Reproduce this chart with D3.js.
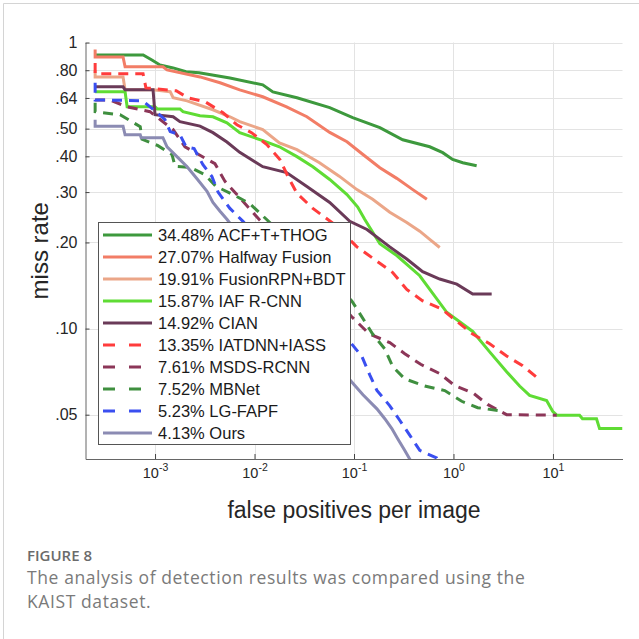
<!DOCTYPE html>
<html>
<head>
<meta charset="utf-8">
<script src="https://cdn.jsdelivr.net/npm/d3@7"></script>
<style>
  body { margin: 0; background: #fff; }
  svg { display: block; }
</style>
</head>
<body>
<script>
// Dados: [fppi, miss rate]
const acf = [[2.5e-4,0.905],[7.6e-4,0.905],[9.3e-4,0.869],[1.12e-3,0.835],[1.52e-3,0.815],[2.05e-3,0.79],[2.77e-3,0.784],[5.66e-3,0.752],[1.21e-2,0.711],[1.53e-2,0.672],[2.67e-2,0.641],[5.7e-2,0.592],[9.7e-2,0.546],[0.182,0.504],[0.309,0.457],[0.577,0.432],[0.78,0.412],[0.98,0.39],[1.24,0.38],[1.71,0.371]];
const halfway = [[2.5e-4,0.945],[2.5e-4,0.89],[4.77e-4,0.89],[5.0e-4,0.822],[1.2e-3,0.822],[1.32e-3,0.802],[2.83e-3,0.758],[4.5e-3,0.723],[7.1e-3,0.683],[1.21e-2,0.646],[2.1e-2,0.596],[3.36e-2,0.55],[5.7e-2,0.485],[8.5e-2,0.45],[0.123,0.406],[0.182,0.365],[0.269,0.335],[0.39,0.306],[0.54,0.283]];
const fusionRpn = [[2.5e-4,0.802],[2.5e-4,0.758],[4.77e-4,0.758],[5.0e-4,0.683],[9.55e-4,0.683],[1.42e-3,0.673],[1.52e-3,0.641],[2.1e-3,0.625],[3.82e-3,0.582],[5.66e-3,0.55],[7.1e-3,0.529],[1.21e-2,0.496],[1.78e-2,0.446],[2.67e-2,0.422],[4.5e-2,0.38],[7.1e-2,0.341],[0.107,0.306],[0.154,0.283],[0.229,0.255],[0.339,0.235],[0.458,0.219],[0.577,0.205],[0.727,0.192]];
const iaf = [[2.5e-4,0.673],[5.0e-4,0.673],[5.24e-4,0.596],[1e-3,0.596],[1.05e-3,0.586],[1.78e-3,0.586],[1.91e-3,0.573],[2.83e-3,0.555],[3.82e-3,0.55],[5.28e-3,0.524],[7.1e-3,0.484],[1.21e-2,0.454],[1.78e-2,0.432],[2.67e-2,0.399],[3.86e-2,0.368],[5.7e-2,0.332],[8.5e-2,0.294],[0.109,0.266],[0.128,0.241],[0.182,0.198],[0.269,0.18],[0.458,0.153],[0.855,0.114],[1.56,0.0977],[2.31,0.0829],[3.42,0.0706],[4.62,0.063],[5.82,0.0584],[8.63,0.056],[9.93,0.0514],[10.9,0.0498],[18.5,0.0498],[19.8,0.0484],[27.4,0.0484],[29.4,0.0447],[50,0.0447]];
const cian = [[2.5e-4,0.70],[4.77e-4,0.70],[5.0e-4,0.683],[9.55e-4,0.683],[1e-3,0.559],[1.52e-3,0.55],[1.78e-3,0.529],[2.83e-3,0.51],[3.82e-3,0.484],[5.28e-3,0.449],[7.1e-3,0.413],[1.21e-2,0.368],[2.1e-2,0.351],[3.36e-2,0.314],[5.7e-2,0.276],[9.07e-2,0.237],[0.135,0.222],[0.229,0.193],[0.339,0.175],[0.49,0.158],[0.727,0.149],[1.08,0.143],[1.56,0.132],[2.42,0.132]];
const iatdnn = [[2.5e-4,0.848],[2.5e-4,0.777],[7.58e-4,0.777],[8.1e-4,0.694],[1.63e-3,0.678],[2.14e-3,0.641],[3.18e-3,0.621],[4.82e-3,0.568],[6.65e-3,0.516],[9.33e-3,0.484],[1.33e-2,0.44],[1.8e-2,0.39],[2.16e-2,0.341],[2.67e-2,0.297],[3.86e-2,0.263],[6.4e-2,0.231],[0.107,0.193],[0.17,0.172],[0.245,0.157],[0.339,0.137],[0.49,0.125],[0.762,0.117],[1.08,0.106],[1.56,0.0957],[2.31,0.0885],[3.42,0.0802],[4.96,0.0741],[7.0,0.0672]];
const msds = [[2.5e-4,0.63],[3.5e-4,0.63],[5.24e-4,0.596],[8.9e-4,0.573],[1.52e-3,0.496],[2.0e-3,0.432],[4.0e-3,0.377],[5.05e-3,0.327],[6.65e-3,0.294],[1.11e-2,0.241],[9.5e-2,0.11],[0.141,0.096],[0.229,0.0893],[0.324,0.0817],[0.468,0.075],[0.727,0.0696],[1.03,0.0632],[1.6,0.0593],[2.2,0.0543],[3.42,0.05],[10.9,0.0498]];
const mbnet = [[2.5e-4,0.616],[2.5e-4,0.573],[4.45e-4,0.559],[7.1e-4,0.508],[7.4e-4,0.459],[1.07e-3,0.436],[1.48e-3,0.406],[1.59e-3,0.369],[2.25e-3,0.366],[3.18e-3,0.345],[4.1e-3,0.314],[6.35e-3,0.292],[9.0e-3,0.273],[1.3e-2,0.242],[9.5e-2,0.125],[0.128,0.106],[0.154,0.0957],[0.204,0.0849],[0.245,0.0736],[0.324,0.0667],[0.514,0.063],[0.817,0.0607],[1.21,0.0557],[1.75,0.0529],[2.78,0.0517]];
const lgfapf = [[2.5e-4,0.723],[2.5e-4,0.63],[7.1e-4,0.626],[7.94e-4,0.616],[1.05e-3,0.568],[1.26e-3,0.537],[1.42e-3,0.488],[1.78e-3,0.476],[2.05e-3,0.432],[2.47e-3,0.426],[3.03e-3,0.374],[3.73e-3,0.34],[4.3e-3,0.30],[5.66e-3,0.263],[7.66e-3,0.237],[9.07e-2,0.09],[0.12,0.0799],[0.144,0.0689],[0.17,0.0608],[0.229,0.0537],[0.288,0.0478],[0.363,0.0424],[0.458,0.0375],[0.678,0.0353],[0.72,0.034]];
const ours = [[2.5e-4,0.537],[2.5e-4,0.51],[4.77e-4,0.51],[5.0e-4,0.476],[7.1e-4,0.476],[7.26e-4,0.465],[1.2e-3,0.465],[1.32e-3,0.432],[1.66e-3,0.399],[2.1e-3,0.368],[2.64e-3,0.334],[3.33e-3,0.302],[3.82e-3,0.276],[4.5e-3,0.257],[5.28e-3,0.241],[9.07e-2,0.0662],[0.123,0.0587],[0.17,0.0524],[0.204,0.0484],[0.24,0.0447],[0.275,0.0412],[0.324,0.0375],[0.363,0.035],[0.38,0.034]];

const labels = ['34.48% ACF+T+THOG', '27.07% Halfway Fusion', '19.91% FusionRPN+BDT', '15.87% IAF R-CNN', '14.92% CIAN',
                '13.35% IATDNN+IASS', '7.61% MSDS-RCNN', '7.52% MBNet', '5.23% LG-FAPF', '4.13% Ours'];
const curves = [acf, halfway, fusionRpn, iaf, cian, iatdnn, msds, mbnet, lgfapf, ours];
const colors = ['#3d993d', '#f27d66', '#eba688', '#5fdc34', '#6a3a58', '#ff3c3c', '#8c3658', '#3f8f3f', '#3a4ff0', '#8b8bb3'];
const dashed = [false, false, false, false, false, true, true, true, true, false];

const yTicks = [1, 0.8, 0.64, 0.5, 0.4, 0.3, 0.2, 0.1, 0.05];
const yTickLabels = ['1', '.80', '.64', '.50', '.40', '.30', '.20', '.10', '.05'];
const xTicks = [1e-3, 1e-2, 1e-1, 1, 10];
const xTickExp = ['-3', '-2', '-1', '0', '1'];

const W = 639, H = 639;
const pL = 85.5, pR = 622.5, pT = 42.5, pB = 459;
const font = 'Liberation Sans, Arial, sans-serif';

const svg = d3.select('body').append('svg')
    .attr('width', W)
    .attr('height', H);

// moldura do cartão
svg.append('path')
    .attr('d', `M3.5,${H} V3.5 H${W}`)
    .attr('fill', 'none')
    .attr('stroke', '#d4d4d4');

// Escalas
const x = d3.scaleLog().domain([2e-4, 50]).range([pL, pR]);
const y = d3.scaleLog().domain([0.035, 1]).range([pB, pT]);

// Grade
const grid = svg.append('g').attr('stroke', '#e3e3e3').attr('stroke-width', 1);
grid.selectAll('.gx').data(xTicks).enter().append('line')
    .attr('x1', d => Math.round(x(d)) + 0.5).attr('x2', d => Math.round(x(d)) + 0.5)
    .attr('y1', pT).attr('y2', pB);
grid.selectAll('.gy').data(yTicks).enter().append('line')
    .attr('y1', d => Math.round(y(d)) + 0.5).attr('y2', d => Math.round(y(d)) + 0.5)
    .attr('x1', pL).attr('x2', pR);

// Eixos
const yAxis = svg.append('g')
    .attr('transform', `translate(${pL},0)`)
    .call(d3.axisLeft(y).tickValues(yTicks).tickSizeInner(-4).tickSizeOuter(0).tickPadding(8)
        .tickFormat(d => yTickLabels[yTicks.indexOf(d)]));
yAxis.selectAll('text').attr('font-size', 16).attr('font-family', font).attr('fill', '#262626');
yAxis.selectAll('line').attr('stroke', '#444');
yAxis.select('.domain').attr('stroke', '#666');

const xAxis = svg.append('g')
    .attr('transform', `translate(0,${pB})`)
    .call(d3.axisBottom(x).tickValues(xTicks).tickSizeInner(-5).tickSizeOuter(0).tickFormat(''));
xAxis.selectAll('line').attr('stroke', '#444');
xAxis.select('.domain').attr('stroke', '#666');
xAxis.selectAll('.tick text').remove();
const xl = xAxis.selectAll('.tick').append('text')
    .attr('y', 19)
    .attr('text-anchor', 'middle')
    .attr('font-family', font)
    .attr('fill', '#262626');
xl.append('tspan').attr('font-size', 14.5).text('10');
xl.append('tspan').attr('font-size', 10.5).attr('dy', -7).text((d, i) => xTickExp[i]);

// Títulos
svg.append('text')
    .attr('transform', `translate(48,${(pT + pB) / 2}) rotate(-90)`)
    .attr('text-anchor', 'middle')
    .attr('font-family', font).attr('font-size', 24).attr('fill', '#262626')
    .text('miss rate');
svg.append('text')
    .attr('x', (pL + pR) / 2).attr('y', 518)
    .attr('text-anchor', 'middle')
    .attr('font-family', font).attr('font-size', 23).attr('fill', '#262626')
    .text('false positives per image');

// Curvas
svg.append('clipPath').attr('id', 'clip')
    .append('rect').attr('x', pL).attr('y', pT).attr('width', pR - pL).attr('height', pB - pT);

const line = d3.line().x(d => x(d[0])).y(d => y(d[1]));
svg.append('g').attr('clip-path', 'url(#clip)')
    .selectAll('path').data(curves).enter().append('path')
    .attr('d', line)
    .attr('fill', 'none')
    .attr('stroke', (d, i) => colors[i])
    .attr('stroke-width', 3)
    .attr('stroke-dasharray', (d, i) => dashed[i] ? '10,7' : null);

// Legenda
const lg = svg.append('g');
lg.append('rect')
    .attr('x', 98.5).attr('y', 222.5).attr('width', 252).attr('height', 222)
    .attr('fill', '#fff').attr('stroke', '#555');
const item = lg.selectAll('.item').data(labels).enter().append('g')
    .attr('transform', (d, i) => `translate(0,${235 + i * 22})`);
item.append('line')
    .attr('x1', 103).attr('x2', 152)
    .attr('stroke', (d, i) => colors[i])
    .attr('stroke-width', 3)
    .attr('stroke-dasharray', (d, i) => dashed[i] ? '12,14' : null);
item.append('text')
    .attr('x', 158).attr('dy', '0.36em')
    .attr('font-family', font).attr('font-size', 16.5).attr('fill', '#1a1a1a')
    .text(d => d);

// Legenda da figura
svg.append('text')
    .attr('x', 27).attr('y', 561)
    .attr('font-family', 'Open Sans, sans-serif').attr('font-size', 15).attr('font-weight', 600)
    .attr('fill', '#6b6b6b')
    .text('FIGURE 8');
svg.append('text')
    .attr('x', 27).attr('y', 584)
    .attr('font-family', 'Open Sans, sans-serif').attr('font-size', 17.5).attr('letter-spacing', 0.6)
    .attr('fill', '#7a7a7a')
    .text('The analysis of detection results was compared using the');
svg.append('text')
    .attr('x', 27).attr('y', 608)
    .attr('font-family', 'Open Sans, sans-serif').attr('font-size', 17.5).attr('letter-spacing', 0.6)
    .attr('fill', '#7a7a7a')
    .text('KAIST dataset.');
</script>
</body>
</html>
